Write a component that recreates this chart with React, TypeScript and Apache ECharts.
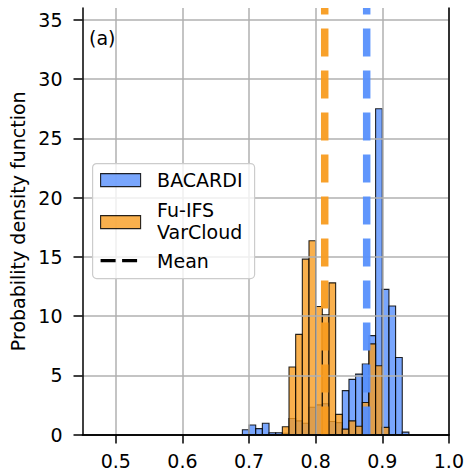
import React, { useEffect, useRef } from "react";
import * as echarts from "echarts";

// Histogram bins (left edges), bin width 0.01
const binLeft = [
  0.69, 0.70, 0.71, 0.72, 0.73, 0.74, 0.75, 0.76, 0.77, 0.78, 0.79, 0.80, 0.81,
  0.82, 0.83, 0.84, 0.85, 0.86, 0.87, 0.88, 0.89, 0.90, 0.91, 0.92, 0.93,
];
const binWidth = 0.01;

// Probability density per bin
const bacardi = [
  0.4, 0.8, 0.5, 0.95, 0.15, 0.15, 0.1, 1.35, 1.15, 0.95, 2.3, 2.5, 2.6,
  1.1, 1.0, 3.7, 4.65, 5.1, 5.95, 8.35, 27.5, 12.25, 10.85, 6.5, 0.2,
];
const fuIfs = [
  0, 0, 0, 0, 0, 0, 0.66, 5.7, 8.45, 14.8, 16.35, 10.8, 10.1,
  12.8, 1.7, 0.45, 1.15, 0.7, 2.7, 7.65, 5.8, 0.6, 0, 0, 0,
];

const meanBacardi = 0.8766;
const meanFuIfs = 0.8136;

const xMin = 0.45;
const xMax = 1.0;
const yMin = 0;
const yMax = 36;
const xTicks = [0.5, 0.6, 0.7, 0.8, 0.9, 1.0];
const yTicks = [0, 5, 10, 15, 20, 25, 30, 35];

const seriesNames = ["BACARDI", "Fu-IFS\nVarCloud", "Mean"];
const panelLabel = "(a)";
const yLabel = "Probability density function";

const BLUE = "#5790fc";
const ORANGE = "#f89c20";
const BLUE_FILL = "rgba(87,144,252,0.8)";
const ORANGE_FILL = "rgba(248,156,32,0.8)";
const EDGE = "rgba(0,0,0,0.85)";
const GRID = "#b0b0b0";
const FONT = "DejaVu Sans";
const FS = 19;

function histSeries(name: string, values: number[], fill: string, z: number) {
  return {
    type: "custom",
    name,
    z,
    xAxisIndex: 0,
    yAxisIndex: 0,
    data: binLeft.map((x, i) => [x, x + binWidth, values[i]]),
    encode: { x: [0, 1], y: 2 },
    renderItem: (_params: any, api: any) => {
      const h = api.value(2);
      if (!h) return null;
      const p0 = api.coord([api.value(0), h]);
      const p1 = api.coord([api.value(1), 0]);
      return {
        type: "rect",
        shape: { x: p0[0], y: p0[1], width: p1[0] - p0[0], height: p1[1] - p0[1] },
        style: { fill, stroke: EDGE, lineWidth: 1.1 },
      };
    },
  };
}

function meanSeries(name: string, x: number, color: string) {
  return {
    type: "line",
    name,
    z: 5,
    xAxisIndex: 0,
    yAxisIndex: 0,
    data: [
      [x, yMin],
      [x, yMax],
    ],
    showSymbol: false,
    symbol: "none",
    silent: true,
    lineStyle: { color, width: 7.5, type: [28, 14], opacity: 0.95, cap: "butt" },
  };
}

export default function App() {
  const ref = useRef<HTMLDivElement>(null);

  useEffect(() => {
    document.body.style.margin = "0";
    if (!ref.current) return;
    const chart = echarts.init(ref.current, null, { renderer: "svg" });

    const axisText = { color: "#000", fontFamily: FONT, fontSize: FS };
    const legendX = 92;
    const legendY = 163;

    chart.setOption({
      animation: false,
      backgroundColor: "#fff",
      grid: { left: 82.5, right: 17.7, top: 8, bottom: 37.5, containLabel: false },
      xAxis: [
        {
          type: "value",
          min: xMin,
          max: xMax,
          z: 4,
          axisLine: { show: true, onZero: false, lineStyle: { color: "#000", width: 1.5 } },
          axisTick: { show: true, length: 9, customValues: xTicks, lineStyle: { color: "#000", width: 1.5 } },
          axisLabel: {
            ...axisText,
            margin: 17,
            customValues: xTicks,
            formatter: (v: number) => v.toFixed(1),
          },
          splitLine: { show: true, lineStyle: { color: GRID, width: 1.5 } },
        },
        {
          type: "value",
          position: "top",
          min: xMin,
          max: xMax,
          z: 6,
          axisLine: { show: true, lineStyle: { color: "#000", width: 1.5 } },
          axisTick: { show: false },
          axisLabel: { show: false },
          splitLine: { show: false },
        },
      ],
      yAxis: [
        {
          type: "value",
          min: yMin,
          max: yMax,
          z: 3,
          name: yLabel,
          nameLocation: "middle",
          nameGap: 53,
          nameTextStyle: { ...axisText },
          axisLine: { show: true, onZero: false, lineStyle: { color: "#000", width: 1.5 } },
          axisTick: { show: true, length: 9, customValues: yTicks, lineStyle: { color: "#000", width: 1.5 } },
          axisLabel: { ...axisText, margin: 20, customValues: yTicks },
          splitLine: { show: true, lineStyle: { color: GRID, width: 1.5 } },
        },
        {
          type: "value",
          position: "right",
          min: yMin,
          max: yMax,
          z: 6,
          axisLine: { show: true, lineStyle: { color: "#000", width: 1.5 } },
          axisTick: { show: false },
          axisLabel: { show: false },
          splitLine: { show: false },
        },
      ],
      series: [
        histSeries(seriesNames[0], bacardi, BLUE_FILL, 1),
        histSeries(seriesNames[1], fuIfs, ORANGE_FILL, 2),
        meanSeries("Mean Fu-IFS", meanFuIfs, ORANGE),
        meanSeries("Mean BACARDI", meanBacardi, BLUE),
      ],
      graphic: [
        {
          type: "text",
          left: 89,
          top: 28,
          z: 10,
          style: { text: panelLabel, fill: "#000", font: `${FS}px "${FONT}"` },
        },
        {
          type: "group",
          left: legendX,
          top: legendY,
          z: 10,
          children: [
            {
              type: "rect",
              shape: { x: 0, y: 0, width: 162, height: 115, r: 4 },
              style: { fill: "rgba(255,255,255,0.8)", stroke: "#cccccc", lineWidth: 1.2 },
              z: 10,
            },
            {
              type: "rect",
              shape: { x: 8, y: 10, width: 40, height: 13 },
              style: { fill: BLUE_FILL, stroke: EDGE, lineWidth: 1.1 },
              z: 11,
            },
            {
              type: "text",
              x: 64.5,
              y: 16.5,
              z: 11,
              style: { text: seriesNames[0], fill: "#000", font: `${FS}px "${FONT}"`, verticalAlign: "middle" },
            },
            {
              type: "rect",
              shape: { x: 8, y: 52, width: 40, height: 13 },
              style: { fill: ORANGE_FILL, stroke: EDGE, lineWidth: 1.1 },
              z: 11,
            },
            {
              type: "text",
              x: 64.5,
              y: 57.5,
              z: 11,
              style: {
                text: seriesNames[1],
                fill: "#000",
                font: `${FS}px "${FONT}"`,
                verticalAlign: "middle",
                lineHeight: 21.5,
              },
            },
            {
              type: "line",
              shape: { x1: 8, y1: 97, x2: 48, y2: 97 },
              style: { stroke: "#000", lineWidth: 3.4, lineDash: [15, 6.5] },
              z: 11,
            },
            {
              type: "text",
              x: 64.5,
              y: 97,
              z: 11,
              style: { text: seriesNames[2], fill: "#000", font: `${FS}px "${FONT}"`, verticalAlign: "middle" },
            },
          ],
        },
      ],
    });

    return () => chart.dispose();
  }, []);

  return <div ref={ref} style={{ width: 467, height: 472 }} />;
}
